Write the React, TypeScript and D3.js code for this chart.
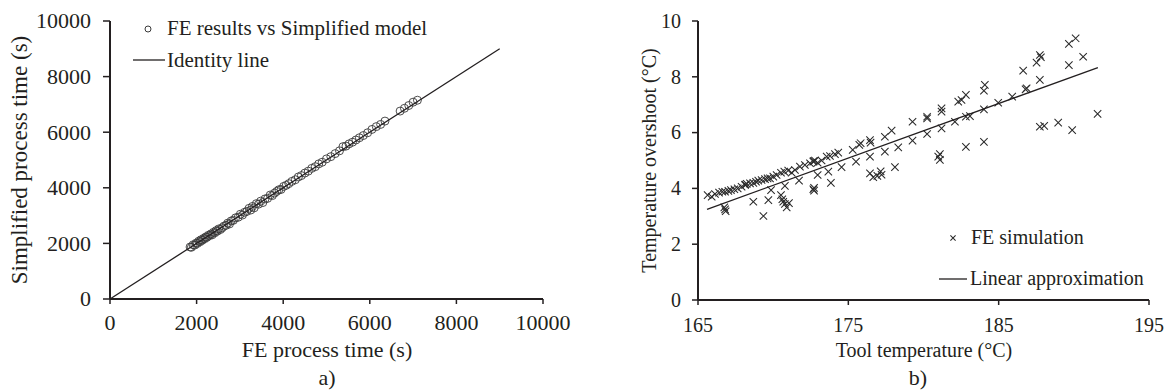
import React from "react";
import * as d3 from "d3";

// ---------- Chart a) data ----------
const feTimes = [
  1850, 1880, 1920, 1960, 1990, 2020, 2050, 2080, 2100, 2130,
  2160, 2190, 2210, 2240, 2270, 2300, 2330, 2360, 2390, 2420,
  2450, 2480, 2510, 2550, 2590, 2630, 2680, 2720, 2760, 2800,
  2850, 2900, 2960, 3010, 3060, 3110, 3160, 3210, 3250, 3290,
  3330, 3380, 3430, 3480, 3530, 3580, 3640, 3700, 3750, 3800,
  3850, 3900, 3950, 4010, 4070, 4130, 4200, 4280, 4350, 4420,
  4500, 4580, 4660, 4740, 4820, 4900, 5000, 5100, 5200, 5300,
  5380, 5450, 5520, 5600, 5680, 5760, 5850, 5950, 6050, 6150,
  6250, 6350, 6700, 6800, 6900, 7000, 7100,
];
const simplifiedTimes = [
  1870, 1860, 1950, 1940, 2010, 2000, 2080, 2060, 2130, 2110,
  2180, 2170, 2230, 2220, 2290, 2280, 2340, 2310, 2400, 2380,
  2460, 2440, 2520, 2500, 2560, 2620, 2650, 2730, 2700, 2810,
  2830, 2920, 2940, 3050, 3020, 3120, 3150, 3260, 3200, 3330,
  3280, 3430, 3410, 3520, 3470, 3600, 3620, 3740, 3720, 3810,
  3870, 3930, 3940, 4050, 4090, 4150, 4230, 4290, 4390, 4440,
  4530, 4600, 4700, 4760, 4860, 4920, 5040, 5120, 5230, 5330,
  5480, 5500, 5580, 5640, 5720, 5800, 5880, 5980, 6100, 6200,
  6280, 6400, 6760, 6860, 6960, 7080, 7150,
];
const identityLine = [0, 9000];
const timeTicks = [0, 2000, 4000, 6000, 8000, 10000];

// ---------- Chart b) data ----------
const toolTemps = [
  165.64, 165.91, 166.13, 166.40, 166.62, 166.80, 167.02, 167.19, 167.42, 167.64,
  167.90, 168.13, 168.15, 168.24, 168.46, 168.68, 168.86, 169.01, 169.23, 169.46,
  169.63, 169.79, 170.01, 170.23, 170.52, 170.74, 171.00, 171.23, 171.45, 171.78,
  172.11, 172.45, 172.67, 172.70, 172.78, 172.96, 173.22, 173.56, 173.78, 174.11,
  174.33, 166.80, 166.75, 166.84, 168.68, 169.35, 169.68, 169.86, 170.52, 170.61,
  170.67, 170.78, 170.90, 171.05, 170.78, 171.72, 172.67, 172.72, 172.72, 172.96,
  173.67, 173.84, 174.55, 175.29, 175.73, 175.82, 176.44, 176.48, 177.43, 177.88,
  179.27, 180.24, 180.24, 181.20, 181.20, 182.31, 182.53, 182.82, 184.02, 175.51,
  176.44, 177.43, 178.32, 179.27, 180.24, 181.20, 182.09, 182.82, 183.09, 184.02,
  176.44, 176.66, 176.93, 177.15, 177.21, 178.10, 180.98, 181.09, 181.09, 182.82,
  184.02, 184.08, 184.97, 185.90, 186.63, 186.86, 186.79, 187.52, 187.74, 187.81,
  187.74, 187.74, 188.03, 188.96, 189.67, 190.12, 189.67, 189.89, 190.62, 191.58,
];
const overshoots = [
  3.76, 3.70, 3.80, 3.85, 3.88, 3.88, 3.91, 3.94, 3.97, 4.00,
  4.06, 4.12, 4.14, 4.16, 4.18, 4.20, 4.24, 4.28, 4.30, 4.33,
  4.36, 4.36, 4.42, 4.48, 4.56, 4.60, 4.64, 4.56, 4.66, 4.78,
  4.84, 4.90, 4.96, 4.98, 5.00, 4.92, 5.00, 5.14, 5.16, 5.23,
  5.28, 3.25, 3.32, 3.18, 3.52, 3.01, 3.58, 3.94, 3.76, 3.61,
  3.52, 3.44, 3.32, 3.47, 4.09, 4.28, 3.97, 4.02, 3.92, 4.48,
  4.60, 4.20, 4.76, 5.38, 5.56, 5.62, 5.73, 5.64, 5.85, 6.07,
  6.39, 6.57, 6.51, 6.87, 6.75, 7.11, 7.17, 7.35, 7.50, 4.96,
  5.14, 5.32, 5.47, 5.71, 5.95, 6.15, 6.39, 6.57, 6.59, 6.83,
  4.54, 4.40, 4.45, 4.61, 4.49, 4.76, 5.14, 5.23, 5.02, 5.49,
  5.67, 7.71, 7.07, 7.29, 8.22, 7.59, 7.55, 8.51, 8.78, 8.70,
  7.89, 6.21, 6.24, 6.36, 9.18, 9.38, 8.42, 6.09, 8.72, 6.67,
];
const fitTemps = [165.6, 191.6];
const fitOvershoots = [3.25, 8.33];
const tempTicks = [165, 175, 185, 195];
const overshootTicks = [0, 2, 4, 6, 8, 10];

const INK = "#231f20";
const FONT = "'Liberation Serif', 'Times New Roman', serif";

export default function App() {
  const W = 1169;
  const H = 390;
  const top = 21;
  const bottom = 300;

  // chart a scales
  const xa = d3.scaleLinear().domain([0, 10000]).range([110, 543]);
  const ya = d3.scaleLinear().domain([0, 10000]).range([bottom - 1, top]);
  // chart b scales
  const xb = d3.scaleLinear().domain([165, 195]).range([698, 1149]);
  const yb = d3.scaleLinear().domain([0, 10]).range([bottom, top]);

  const idLine = d3
    .line<number>()
    .x((d) => xa(d))
    .y((d) => ya(d))(identityLine);
  const fitLine = d3
    .line<number>()
    .x((d) => xb(d))
    .y((_, i) => yb(fitOvershoots[i]))(fitTemps);

  const cross = (cx: number, cy: number, s: number, key?: any) => (
    <path
      key={key}
      d={`M${cx - s},${cy - s}L${cx + s},${cy + s}M${cx - s},${cy + s}L${cx + s},${cy - s}`}
      stroke="#2a2a2a"
      strokeWidth={1.05}
      fill="none"
    />
  );

  const fsA = 22;
  const fsB = 20;
  const by = ya(0);

  return (
    <svg
      width={W}
      height={H}
      style={{ position: "absolute", left: 0, top: 0, background: "#fff" }}
      fontFamily={FONT}
      fill={INK}
    >
      <rect width={W} height={H} fill="#fff" />

      {/* ===== Chart a ===== */}
      <g>
        {timeTicks.map((t) => (
          <g key={"ya" + t}>
            <line x1={103} x2={110} y1={ya(t)} y2={ya(t)} stroke={INK} strokeWidth={1.5} />
            <text x={91} y={ya(t)} dy="0.34em" textAnchor="end" fontSize={fsA}>
              {t}
            </text>
          </g>
        ))}
        {timeTicks.map((t) => (
          <g key={"xa" + t}>
            <line x1={xa(t)} x2={xa(t)} y1={by} y2={by + 5} stroke={INK} strokeWidth={1.5} />
            <text x={xa(t)} y={330} textAnchor="middle" fontSize={fsA}>
              {t}
            </text>
          </g>
        ))}
        {feTimes.map((v, i) => (
          <circle
            key={"pa" + i}
            cx={xa(v)}
            cy={ya(simplifiedTimes[i])}
            r={4}
            fill="none"
            stroke="#3a3a3a"
            strokeWidth={0.9}
          />
        ))}
        <path d={idLine || ""} stroke={INK} strokeWidth={1.3} fill="none" />
        <line x1={110} x2={110} y1={top} y2={by} stroke={INK} strokeWidth={2} />
        <line x1={110} x2={543} y1={by} y2={by} stroke={INK} strokeWidth={2} />
        <text x={327} y={357} textAnchor="middle" fontSize={fsA}>
          FE process time (s)
        </text>
        <text
          transform={`translate(27,${(top + by) / 2}) rotate(-90)`}
          textAnchor="middle"
          fontSize={23}
        >
          Simplified process time (s)
        </text>
        <text x={327} y={385} textAnchor="middle" fontSize={22}>
          a)
        </text>
        <circle cx={148} cy={29} r={3} fill="none" stroke="#3a3a3a" strokeWidth={1} />
        <text x={167} y={35} fontSize={21}>
          FE results vs Simplified model
        </text>
        <line x1={133} x2={165} y1={60} y2={60} stroke={INK} strokeWidth={1.3} />
        <text x={167} y={67} fontSize={21}>
          Identity line
        </text>
      </g>

      {/* ===== Chart b ===== */}
      <g>
        {overshootTicks.map((t) => (
          <g key={"yb" + t}>
            <line x1={692} x2={698} y1={yb(t)} y2={yb(t)} stroke={INK} strokeWidth={1.5} />
            <text x={681} y={yb(t)} dy="0.34em" textAnchor="end" fontSize={fsB}>
              {t}
            </text>
          </g>
        ))}
        {tempTicks.map((t) => (
          <g key={"xb" + t}>
            <line x1={xb(t)} x2={xb(t)} y1={bottom} y2={bottom + 5} stroke={INK} strokeWidth={1.5} />
            <text x={xb(t)} y={332} textAnchor="middle" fontSize={fsB}>
              {t}
            </text>
          </g>
        ))}
        {toolTemps.map((t, i) => cross(xb(t), yb(overshoots[i]), 3.7, "pb" + i))}
        <path d={fitLine || ""} stroke={INK} strokeWidth={1.3} fill="none" />
        <line x1={698} x2={698} y1={top} y2={bottom} stroke={INK} strokeWidth={2} />
        <line x1={698} x2={1149} y1={bottom} y2={bottom} stroke={INK} strokeWidth={2} />
        <text x={924} y={357} textAnchor="middle" fontSize={fsB}>
          Tool temperature (°C)
        </text>
        <text
          transform={`translate(656,${(top + bottom) / 2}) rotate(-90)`}
          textAnchor="middle"
          fontSize={fsB}
        >
          Temperature overshoot (°C)
        </text>
        <text x={918} y={385} textAnchor="middle" fontSize={22}>
          b)
        </text>
        {cross(953, 238, 2.6)}
        <text x={971} y={244} fontSize={fsB}>
          FE simulation
        </text>
        <line x1={939} x2={967} y1={279} y2={279} stroke={INK} strokeWidth={1.3} />
        <text x={970} y={285} fontSize={fsB}>
          Linear approximation
        </text>
      </g>
    </svg>
  );
}
